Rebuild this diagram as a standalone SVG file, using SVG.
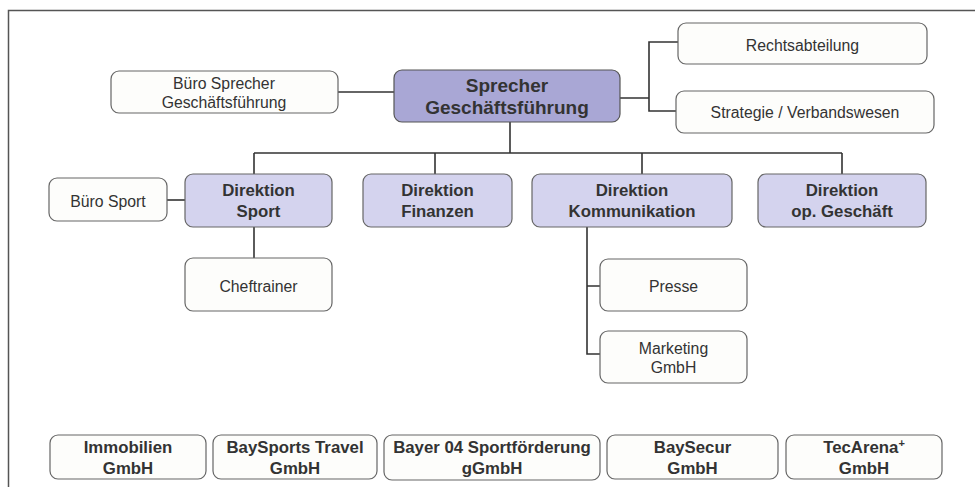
<svg xmlns="http://www.w3.org/2000/svg" width="975" height="487" viewBox="0 0 975 487">
<style>
.box{fill:#fdfdfb;stroke:#666;stroke-width:1.2}
.dir{fill:#d4d3ee;stroke:#666;stroke-width:1.2}
.top{fill:#a9a7d5;stroke:#555;stroke-width:1.2}
.t{font-family:"Liberation Sans",Arial,sans-serif;font-size:15.8px;fill:#333;text-anchor:middle}
.b{font-family:"Liberation Sans",Arial,sans-serif;font-size:16.8px;font-weight:bold;fill:#333;text-anchor:middle}
.bb{font-family:"Liberation Sans",Arial,sans-serif;font-size:19px;font-weight:bold;fill:#333;text-anchor:middle}
.c{fill:none;stroke:#333;stroke-width:1.6}
</style>
<rect width="975" height="487" fill="#ffffff"/>
<path d="M8.5 487 V10.5 H975" fill="none" stroke="#555" stroke-width="1.5"/>
<g id="connectors">
<path class="c" d="M338 92 H394"/>
<path class="c" d="M620 98 H649 M678 42 H649 V111 H676"/>
<path class="c" d="M510 122 V153 M254 153 H842 M254 153 V174 M435 153 V174 M642 153 V174 M842 153 V174"/>
<path class="c" d="M167 200 H185"/>
<path class="c" d="M254 227 V258"/>
<path class="c" d="M587 227 V354 H600 M587 286 H600"/>
</g>
<g id="sprecher"><rect class="top" x="394" y="70" width="226" height="52" rx="8"/><text class="bb" x="507" y="92">Sprecher</text><text class="bb" x="507" y="114">Geschäftsführung</text></g>
<g id="buero-sprecher"><rect class="box" x="111" y="71" width="227" height="42" rx="8"/><text class="t" x="224" y="89">Büro Sprecher</text><text class="t" x="224" y="108">Geschäftsführung</text></g>
<g id="rechtsabteilung"><rect class="box" x="678" y="23" width="249" height="41" rx="8"/><text class="t" x="802.5" y="50.5">Rechtsabteilung</text></g>
<g id="strategie"><rect class="box" x="676" y="91" width="258" height="42" rx="8"/><text class="t" x="805" y="118">Strategie / Verbandswesen</text></g>
<g id="buero-sport"><rect class="box" x="49" y="178" width="118" height="43" rx="8"/><text class="t" x="108" y="206.5">Büro Sport</text></g>
<g id="dir-sport"><rect class="dir" x="185" y="174" width="147" height="53" rx="8"/><text class="b" x="258.5" y="196">Direktion</text><text class="b" x="258.5" y="217">Sport</text></g>
<g id="dir-finanzen"><rect class="dir" x="363" y="174" width="149" height="53" rx="8"/><text class="b" x="437.5" y="196">Direktion</text><text class="b" x="437.5" y="217">Finanzen</text></g>
<g id="dir-kommunikation"><rect class="dir" x="532" y="174" width="200" height="53" rx="8"/><text class="b" x="632" y="196">Direktion</text><text class="b" x="632" y="217">Kommunikation</text></g>
<g id="dir-opgeschaeft"><rect class="dir" x="758" y="174" width="168" height="53" rx="8"/><text class="b" x="842" y="196">Direktion</text><text class="b" x="842" y="217">op. Geschäft</text></g>
<g id="cheftrainer"><rect class="box" x="185" y="258" width="147" height="53" rx="8"/><text class="t" x="258.5" y="291.5">Cheftrainer</text></g>
<g id="presse"><rect class="box" x="600" y="259" width="147" height="52" rx="8"/><text class="t" x="673.5" y="291.5">Presse</text></g>
<g id="marketing"><rect class="box" x="600" y="331" width="147" height="52" rx="8"/><text class="t" x="673.5" y="354">Marketing</text><text class="t" x="673.5" y="373">GmbH</text></g>
<g id="immobilien"><rect class="box" x="50" y="435" width="156" height="44" rx="8"/><text class="b" x="128" y="453">Immobilien</text><text class="b" x="128" y="474">GmbH</text></g>
<g id="baysports"><rect class="box" x="213" y="435" width="164" height="44" rx="8"/><text class="b" x="295" y="453">BaySports Travel</text><text class="b" x="295" y="474">GmbH</text></g>
<g id="bayer04"><rect class="box" x="384" y="435" width="216" height="45" rx="8"/><text class="b" x="492" y="453">Bayer 04 Sportförderung</text><text class="b" x="492" y="474">gGmbH</text></g>
<g id="baysecur"><rect class="box" x="607" y="435" width="171" height="44" rx="8"/><text class="b" x="692.5" y="453">BaySecur</text><text class="b" x="692.5" y="474">GmbH</text></g>
<g id="tecarena"><rect class="box" x="786" y="435" width="156" height="44" rx="8"/><text class="b" x="864" y="453">TecArena<tspan font-size="11" dy="-6">+</tspan></text><text class="b" x="864" y="474">GmbH</text></g>
</svg>
